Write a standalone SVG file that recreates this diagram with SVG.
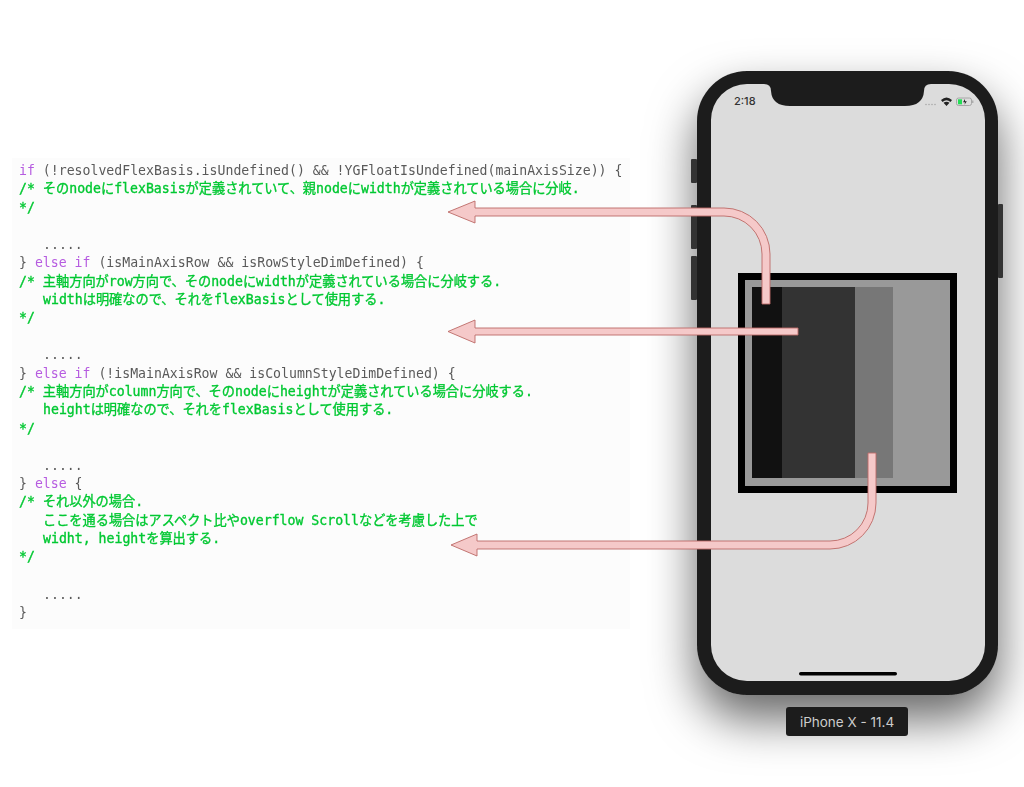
<svg xmlns="http://www.w3.org/2000/svg" width="1024" height="787" viewBox="0 0 1024 787">
<style>
.code{font-family:"DejaVu Sans Mono","Noto Sans CJK JP",monospace;font-size:13.2px;fill:#5a5a5a}
.c{fill:#00c832;stroke:#00c832;stroke-width:.35}
.k{fill:#b65be0}
.arrow{fill:#f5c9c9;stroke:#bc6a66;stroke-width:.9}
.btn{fill:#333}
</style>
<defs>
<filter id="shadow" x="-30%" y="-20%" width="160%" height="145%"><feDropShadow dx="0" dy="24" stdDeviation="24" flood-color="#000" flood-opacity="0.6"/></filter>
<filter id="soft" x="-2%" y="-2%" width="104%" height="104%"><feGaussianBlur stdDeviation="0.3"/></filter>
</defs>
<rect width="1024" height="787" fill="#fff"/>
<g id="code">
<rect x="12" y="158" width="618" height="471" fill="#fcfcfc"/>
<g filter="url(#soft)">
<text class="code" x="19" y="175"><tspan class="k">if</tspan> (!resolvedFlexBasis.isUndefined() &amp;&amp; !YGFloatIsUndefined(mainAxisSize)) {</text>
<text class="code c" x="19" y="193">/* そのnodeにflexBasisが定義されていて、親nodeにwidthが定義されている場合に分岐.</text>
<text class="code c" x="19" y="212">*/</text>
<text class="code" x="43" y="249">.....</text>
<text class="code" x="19" y="267">} <tspan class="k">else if</tspan> (isMainAxisRow &amp;&amp; isRowStyleDimDefined) {</text>
<text class="code c" x="19" y="286">/* 主軸方向がrow方向で、そのnodeにwidthが定義されている場合に分岐する.</text>
<text class="code c" x="43" y="304">widthは明確なので、それをflexBasisとして使用する.</text>
<text class="code c" x="19" y="322">*/</text>
<text class="code" x="43" y="359">.....</text>
<text class="code" x="19" y="378">} <tspan class="k">else if</tspan> (!isMainAxisRow &amp;&amp; isColumnStyleDimDefined) {</text>
<text class="code c" x="19" y="396">/* 主軸方向がcolumn方向で、そのnodeにheightが定義されている場合に分岐する.</text>
<text class="code c" x="43" y="414">heightは明確なので、それをflexBasisとして使用する.</text>
<text class="code c" x="19" y="433">*/</text>
<text class="code" x="43" y="470">.....</text>
<text class="code" x="19" y="488">} <tspan class="k">else</tspan> {</text>
<text class="code c" x="19" y="506">/* それ以外の場合.</text>
<text class="code c" x="43" y="525">ここを通る場合はアスペクト比やoverflow Scrollなどを考慮した上で</text>
<text class="code c" x="43" y="543">widht, heightを算出する.</text>
<text class="code c" x="19" y="561">*/</text>
<text class="code" x="43" y="599">.....</text>
<text class="code" x="19" y="617">}</text>
</g>
</g>
<g id="phone">
<rect x="697" y="71" width="301" height="624" rx="50" fill="#1c1c1c" filter="url(#shadow)"/>
<rect class="btn" x="691" y="159" width="6" height="24" rx="1"/>
<rect class="btn" x="691" y="205" width="6" height="44" rx="1"/>
<rect class="btn" x="691" y="256" width="6" height="44" rx="1"/>
<rect class="btn" x="998" y="204" width="5" height="74" rx="1"/>
<path d="M747,84H764Q771,84 771,91Q772,106 790,106H905Q923,106 924,91Q924,84 931,84H949A36,36 0 0 1 985,120V645A36,36 0 0 1 949,681H747A36,36 0 0 1 711,645V120A36,36 0 0 1 747,84Z" fill="#dcdcdc"/>
<rect x="799" y="672" width="98" height="3.5" rx="1.75" fill="#000"/>
<text x="734" y="105" font-family="Inter,'Liberation Sans',sans-serif" font-size="11" font-weight="500" fill="#333">2:18</text>
<g fill="#aaa"><circle cx="926" cy="104.500" r=".8"/><circle cx="929" cy="104.500" r=".8"/><circle cx="932" cy="104.500" r=".8"/><circle cx="935" cy="104.500" r=".8"/></g>
<path d="M941,100Q946.500,95 952,100L950.500,102Q946.500,98.500 942.500,102ZM943.500,102.800Q946.500,100.500 949.500,102.800L946.500,106Z" fill="#222"/>
<rect x="956.500" y="98" width="15" height="7.500" rx="2" fill="none" stroke="#999" stroke-width=".8"/>
<rect x="958" y="99.300" width="4" height="5" fill="#22dd55"/>
<path d="M965,99L963,102.200H965L964.500,104.800L966.800,101.300H965Z" fill="#222"/>
<rect x="972.300" y="100.500" width="1" height="2.500" fill="#999"/>
</g>
<g id="outer-box">
<rect x="741.500" y="276.500" width="212" height="213" fill="#999" stroke="#000" stroke-width="7"/>
</g>
<g id="child-1"><rect x="752" y="287" width="30" height="191" fill="#111"/></g>
<g id="child-2"><rect x="782" y="287" width="73" height="191" fill="#333"/></g>
<g id="child-3"><rect x="855" y="287" width="38" height="191" fill="#777"/></g>
<g id="device-label">
<rect x="786" y="707" width="122" height="29" rx="3" fill="#1c1c1c"/>
<text x="847" y="727" text-anchor="middle" font-family="Inter,'Liberation Sans',sans-serif" font-size="13.5" fill="#ccc">iPhone X - 11.4</text>
</g>
<g id="connectors">
<path class="arrow" d="M448,212L475,201V208H724A46,46 0 0 1 770,254V304H762V254A38,38 0 0 0 724,216H475V223Z"/>
<path class="arrow" d="M448,331.500L475,320V328H798V335H475V343Z"/>
<path class="arrow" d="M451,545L477,534V541H830A38,38 0 0 0 868,503V453H876V503A46,46 0 0 1 830,549H477V556Z"/>
</g>
</svg>
